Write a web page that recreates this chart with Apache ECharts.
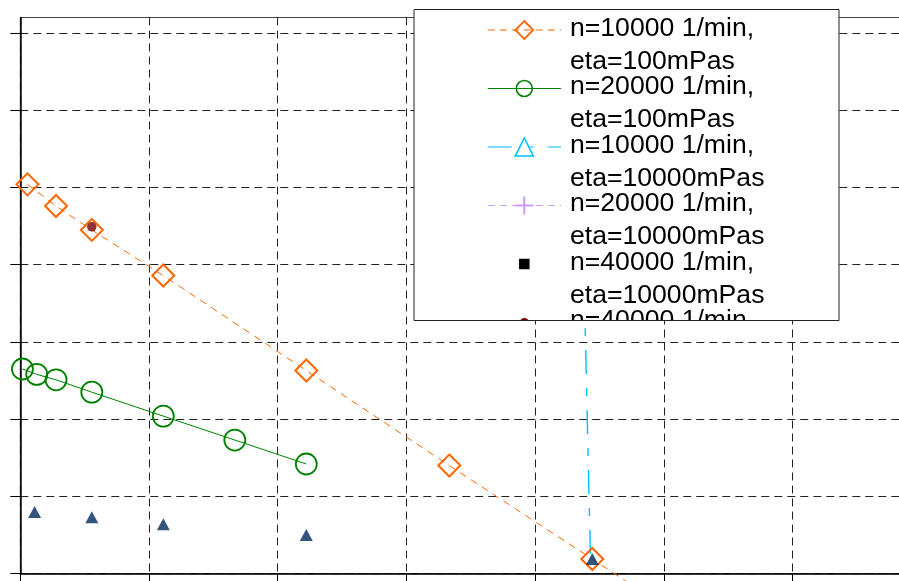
<!DOCTYPE html>
<html><head><meta charset="utf-8">
<script src="https://cdn.jsdelivr.net/npm/echarts@6/dist/echarts.min.js"></script>
<style>html,body{margin:0;padding:0;background:#fff}#c{width:899px;height:581px}</style>
</head><body><div id="c"></div>
<script>
// ---- data ----
const seriesNames = [
  'n=10000 1/min,\neta=100mPas',
  'n=20000 1/min,\neta=100mPas',
  'n=10000 1/min,\neta=10000mPas',
  'n=20000 1/min,\neta=10000mPas',
  'n=40000 1/min,\neta=10000mPas',
  'n=40000 1/min,\neta=100mPas'
];
const extraName = 'n=10000 1/min,\neta=1000mPas';

const orangeX = [0.5, 2.5, 5, 10, 20, 30, 40, 50];
const orangeY = [5.04, 4.76, 4.45, 3.86, 2.63, 1.40, 0.19, -1.03];

const greenX = [0.15, 1.15, 2.5, 5, 10, 15, 20];
const greenY = [2.65, 2.58, 2.51, 2.35, 2.04, 1.73, 1.42];

const cyanX = [39.15, 39.87];
const cyanY = [6.0, 0.22];

const purpleX = [];
const purpleY = [];

const blackX = [];
const blackY = [];

const redX = [5];
const redY = [4.49];

const navyX = [1, 5, 10, 20, 40];
const navyY = [0.80, 0.73, 0.64, 0.50, 0.19];

const xTicks = [0, 9, 18, 27, 36, 45, 54, 63];
const yTicks = [0, 1, 2, 3, 4, 5, 6, 7];

const zip = (xs, ys) => xs.map((x, i) => [x, ys[i]]);

// ---- styles ----
const C_OR = '#ff6600', C_GR = '#008000', C_CY = '#00bfff', C_PU = '#cc99ff', C_BK = '#000000', C_RD = '#7a0000', C_NV = '#002a5c';

const legendStyles = [
  {color: C_OR, dash: [7, 5], symbol: 'diamond', size: 18},
  {color: C_GR, dash: null, symbol: 'circle', size: 16},
  {color: C_CY, dash: [24, 14, 8, 14], symbol: 'triangle', size: 18},
  {color: C_PU, dash: [7, 5], symbol: 'plus', size: 18},
  {color: C_BK, line: false, symbol: 'square', size: 10.5},
  {color: C_RD, line: false, symbol: 'dot', size: 9}
];

function symbolEl(st, cx, cy) {
  const h = st.size / 2;
  switch (st.symbol) {
    case 'diamond':
      return {type: 'polygon', shape: {points: [[cx, cy - h], [cx + h, cy], [cx, cy + h], [cx - h, cy]]},
              style: {fill: 'rgba(255,255,255,0)', stroke: st.color, lineWidth: 1.8}};
    case 'circle':
      return {type: 'circle', shape: {cx: cx, cy: cy, r: h}, style: {fill: 'rgba(255,255,255,0)', stroke: st.color, lineWidth: 1.6}};
    case 'triangle':
      return {type: 'polygon', shape: {points: [[cx, cy - h], [cx + h, cy + h], [cx - h, cy + h]]},
              style: {fill: '#fff', stroke: st.color, lineWidth: 1.6}};
    case 'plus':
      return {type: 'group', children: [
        {type: 'line', shape: {x1: cx - h, y1: cy, x2: cx + h, y2: cy}, style: {stroke: st.color, lineWidth: 2}},
        {type: 'line', shape: {x1: cx, y1: cy - h, x2: cx, y2: cy + h}, style: {stroke: st.color, lineWidth: 2}}
      ]};
    case 'square':
      return {type: 'rect', shape: {x: cx - h, y: cy - h, width: st.size, height: st.size}, style: {fill: st.color}};
    default:
      return {type: 'circle', shape: {cx: cx, cy: cy, r: h}, style: {fill: st.color}};
  }
}

const chart = echarts.init(document.getElementById('c'), null, {renderer: 'canvas'});

const axisCommon = {
  type: 'value',
  axisLine: {show: true, onZero: false, lineStyle: {color: '#000', width: 1.5}},
  axisLabel: {show: false},
  splitLine: {show: true, lineStyle: {color: '#222', width: 1, type: [8, 5]}}
};

chart.setOption({
  animation: false,
  backgroundColor: '#fff',
  grid: {left: 20.3, top: 17.5, width: 900.9, height: 556.2, outerBoundsMode: 'none', containLabel: false,
         show: true, borderColor: '#444', borderWidth: 1, backgroundColor: 'rgba(0,0,0,0)'},
  xAxis: Object.assign({}, axisCommon, {
    min: 0, max: 63, interval: 9,
    axisTick: {show: true, length: 9, customValues: xTicks, lineStyle: {color: '#000', width: 1}}
  }),
  yAxis: Object.assign({}, axisCommon, {
    min: 0, max: 7.2, interval: 1,
    axisTick: {show: true, length: 10, customValues: yTicks, lineStyle: {color: '#000', width: 1}}
  }),
  series: [
    {
      name: seriesNames[0], type: 'line', data: zip(orangeX, orangeY), clip: false, z: 2,
      symbol: 'diamond', symbolSize: 22,
      itemStyle: {color: 'rgba(255,255,255,0)', borderColor: C_OR, borderWidth: 2},
      lineStyle: {color: C_OR, width: 1, type: [7, 6]}
    },
    {
      name: seriesNames[1], type: 'line', data: zip(greenX, greenY), z: 2,
      symbol: 'circle', symbolSize: 21,
      itemStyle: {color: 'rgba(255,255,255,0)', borderColor: C_GR, borderWidth: 1.8},
      lineStyle: {color: C_GR, width: 1, type: 'solid'}
    },
    {
      name: seriesNames[2], type: 'line', data: zip(cyanX, cyanY), z: 2,
      symbol: 'triangle', showSymbol: false,
      itemStyle: {color: C_CY},
      lineStyle: {color: C_CY, width: 1.4, type: [24, 14, 8, 14]}
    },
    {
      name: seriesNames[3], type: 'line', data: zip(purpleX, purpleY), z: 2,
      symbol: 'path://M0,5L10,5M5,0L5,10', symbolSize: 18,
      itemStyle: {color: C_PU}, lineStyle: {color: C_PU, width: 1, type: [7, 5]}
    },
    {
      name: seriesNames[4], type: 'scatter', data: zip(blackX, blackY), z: 3,
      symbol: 'rect', symbolSize: 10, itemStyle: {color: C_BK}
    },
    {
      name: extraName, type: 'scatter', data: zip(navyX, navyY), z: 3,
      symbol: 'triangle', symbolSize: [13, 12], itemStyle: {color: C_NV}
    },
    {
      name: seriesNames[5], type: 'scatter', data: zip(redX, redY), z: 3,
      symbol: 'circle', symbolSize: 9.5, itemStyle: {color: C_RD}
    },
    {
      name: 'legend', type: 'custom', coordinateSystem: 'none', data: [0], z: 10, silent: true,
      renderItem: function () {
        const bx = 414, by = 9.5, bw = 425, bh = 311;
        const kids = [];
        seriesNames.forEach(function (nm, i) {
          const st = legendStyles[i];
          const cy = 30 + 58.5 * i;
          if (st.line !== false) {
            kids.push({type: 'line', shape: {x1: 487.7, y1: cy, x2: 561, y2: cy},
                       style: {stroke: st.color, lineWidth: 1, lineDash: st.dash || null}});
          }
          kids.push(symbolEl(st, 524.3, cy));
          nm.split('\n').forEach(function (t, j) {
            kids.push({type: 'text', style: {text: t, x: 570, y: 37.5 + 58.5 * i + 33 * j - 9.2,
              font: '26.6px "Liberation Sans", Arial, sans-serif', fill: '#000', align: 'left', verticalAlign: 'middle'}});
          });
        });
        return {type: 'group', children: [
          {type: 'rect', shape: {x: bx, y: by, width: bw, height: bh}, style: {fill: '#fff', stroke: '#222', lineWidth: 1}},
          {type: 'group', clipPath: {type: 'rect', shape: {x: bx + 0.5, y: by + 0.5, width: bw - 1, height: bh - 1}}, children: kids}
        ]};
      }
    }
  ]
});
</script>
</body></html>
